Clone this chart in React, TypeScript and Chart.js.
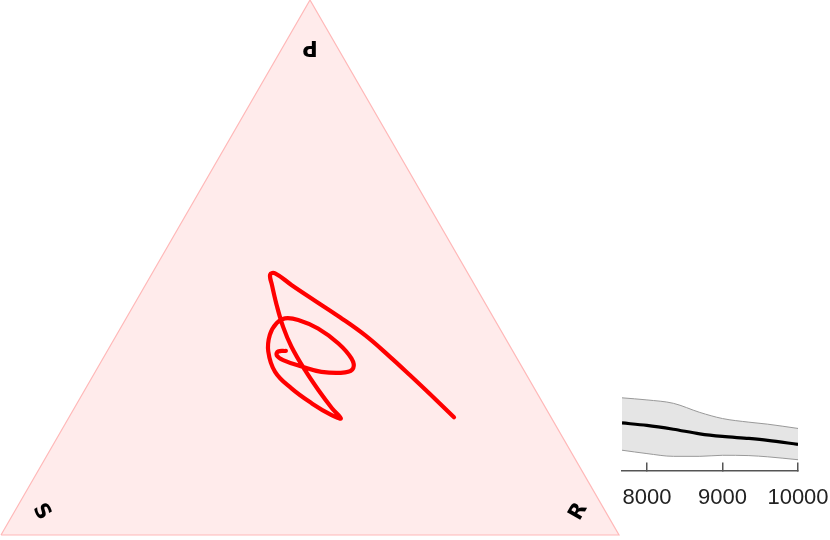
import React, { useEffect, useRef } from 'react';
import { Chart, registerables } from 'chart.js';

Chart.register(...registerables);

// ---- Ternary plot data (fractions of P, R, S) ----
const vertexLabels = ['P', 'R', 'S'];
const labelP = [0.913, 0.0435, 0.0435];
const labelR = [0.0435, 0.913, 0.0435];
const labelS = [0.0435, 0.0435, 0.913];

const trajP = [0.220, 0.263, 0.299, 0.333, 0.373, 0.407, 0.438, 0.467, 0.489, 0.487, 0.467, 0.430, 0.389, 0.352, 0.308, 0.271, 0.237, 0.218, 0.224, 0.246, 0.274, 0.305, 0.343, 0.374, 0.396, 0.405, 0.402, 0.386, 0.358, 0.330, 0.312, 0.304, 0.305, 0.315, 0.327, 0.336, 0.343, 0.344];
const trajR = [0.623, 0.563, 0.512, 0.463, 0.403, 0.345, 0.289, 0.237, 0.199, 0.192, 0.205, 0.231, 0.262, 0.294, 0.338, 0.378, 0.417, 0.441, 0.423, 0.380, 0.333, 0.291, 0.261, 0.248, 0.248, 0.257, 0.280, 0.320, 0.367, 0.402, 0.414, 0.405, 0.366, 0.329, 0.293, 0.278, 0.277, 0.289];
const trajS = [0.157, 0.174, 0.189, 0.204, 0.224, 0.248, 0.273, 0.296, 0.312, 0.321, 0.328, 0.339, 0.349, 0.354, 0.354, 0.351, 0.346, 0.341, 0.353, 0.374, 0.393, 0.404, 0.396, 0.378, 0.356, 0.338, 0.318, 0.294, 0.275, 0.268, 0.274, 0.291, 0.329, 0.356, 0.380, 0.386, 0.380, 0.367];

// ---- Inset data ----
const insetX = [7670, 8000, 8350, 8700, 9000, 9350, 9600, 10000];
const insetMean = [0.591, 0.561, 0.513, 0.456, 0.424, 0.399, 0.376, 0.325];
const insetUpper = [0.903, 0.877, 0.835, 0.722, 0.646, 0.601, 0.576, 0.523];
const insetLower = [0.253, 0.211, 0.177, 0.177, 0.190, 0.186, 0.171, 0.135];
const insetTicks = [8000, 9000, 10000];

const SQ = Math.sqrt(3) / 2;
const toXY = (p: number, r: number, s: number) => {
  const t = p + r + s;
  return { x: (r + p / 2) / t, y: (p / t) * SQ };
};

const labelPlugin = {
  id: 'ternLabels',
  afterDatasetsDraw(chart: any) {
    const { ctx, scales } = chart;
    const xs = scales.x;
    const ys = scales.y;
    const rots = [Math.PI, -Math.PI / 3, Math.PI / 3];
    ctx.save();
    ctx.font = 'bold 21px "DejaVu Sans", "Liberation Sans", sans-serif';
    ctx.fillStyle = '#000';
    ctx.textAlign = 'center';
    ctx.textBaseline = 'middle';
    vertexLabels.forEach((lab, i) => {
      const pt = toXY(labelP[i], labelR[i], labelS[i]);
      const px = xs.getPixelForValue(pt.x);
      const py = ys.getPixelForValue(pt.y);
      ctx.save();
      ctx.translate(px, py);
      ctx.rotate(rots[i]);
      ctx.fillText(lab, 0, 0);
      ctx.restore();
    });
    ctx.restore();
  },
};

export default function App() {
  const ternRef = useRef<HTMLCanvasElement>(null);
  const insetRef = useRef<HTMLCanvasElement>(null);

  useEffect(() => {
    const corners = [toXY(0, 0, 1), toXY(0, 1, 0), toXY(1, 0, 0), toXY(0, 0, 1)];
    const traj = trajP.map((p, i) => toXY(p, trajR[i], trajS[i]));

    const tern = new Chart(ternRef.current!, {
      type: 'scatter',
      data: {
        datasets: [
          {
            data: traj,
            showLine: true,
            borderColor: '#ff0000',
            borderWidth: 4.2,
            pointRadius: 0,
            tension: 0.4,
            fill: false,
            clip: false,
            borderCapStyle: 'round',
            borderJoinStyle: 'round',
          } as any,
          {
            data: corners,
            showLine: true,
            borderColor: '#ffb8b8',
            borderWidth: 1.2,
            backgroundColor: '#ffebeb',
            pointRadius: 0,
            tension: 0,
            fill: 'shape',
            clip: false,
          } as any,
        ],
      },
      options: {
        animation: false,
        responsive: false,
        events: [],
        layout: { padding: { left: 1, right: 211, top: 0, bottom: 5 } },
        plugins: { legend: { display: false }, tooltip: { enabled: false } },
        scales: {
          x: { type: 'linear', min: 0, max: 1, display: false },
          y: { type: 'linear', min: 0, max: SQ, display: false },
        },
      },
      plugins: [labelPlugin],
    });

    const mk = (arr: number[]) => insetX.map((x, i) => ({ x, y: arr[i] }));
    const last = insetX.length - 1;
    const inset = new Chart(insetRef.current!, {
      type: 'scatter',
      data: {
        datasets: [
          {
            data: mk(insetMean),
            showLine: true,
            borderColor: '#000',
            borderWidth: 3.2,
            pointRadius: 0,
            cubicInterpolationMode: 'monotone',
            fill: false,
          } as any,
          {
            data: mk(insetUpper),
            showLine: true,
            borderColor: '#999',
            borderWidth: 1,
            pointRadius: 0,
            cubicInterpolationMode: 'monotone',
            fill: false,
          } as any,
          {
            data: mk(insetLower),
            showLine: true,
            borderColor: '#999',
            borderWidth: 1,
            pointRadius: 0,
            cubicInterpolationMode: 'monotone',
            fill: '-1',
            backgroundColor: '#e5e5e5',
          } as any,
          {
            data: [
              { x: insetX[last], y: insetUpper[last] },
              { x: insetX[last], y: insetLower[last] },
            ],
            showLine: true,
            borderColor: '#999',
            borderWidth: 1,
            pointRadius: 0,
            fill: false,
          } as any,
        ],
      },
      options: {
        animation: false,
        responsive: false,
        events: [],
        layout: { padding: { left: 622, right: 32, top: 390, bottom: 7 } },
        plugins: { legend: { display: false }, tooltip: { enabled: false } },
        scales: {
          x: {
            type: 'linear',
            min: insetX[0],
            max: insetX[last],
            position: 'bottom',
            border: { display: true, color: '#555', width: 1.5 },
            grid: { drawOnChartArea: false, drawTicks: true, tickLength: -8, color: '#555', lineWidth: 1.5 },
            ticks: {
              font: { size: 22, family: '"Liberation Sans", Arial, sans-serif' },
              color: '#222',
              padding: 22,
              maxRotation: 0,
              callback: (v: any) => String(v),
            },
            afterBuildTicks: (s: any) => {
              s.ticks = insetTicks.map((v) => ({ value: v }));
            },
            afterFit: (s: any) => {
              s.paddingLeft = 0;
              s.paddingRight = 0;
            },
          } as any,
          y: { type: 'linear', min: 0, max: 1, display: false },
        },
      },
    });

    return () => {
      tern.destroy();
      inset.destroy();
    };
  }, []);

  return (
    <div style={{ position: 'absolute', left: 0, top: 0, width: 830, height: 540, background: '#fff' }}>
      <canvas ref={ternRef} width={830} height={540} style={{ position: 'absolute', left: 0, top: 0 }} />
      <canvas ref={insetRef} width={830} height={540} style={{ position: 'absolute', left: 0, top: 0 }} />
    </div>
  );
}
